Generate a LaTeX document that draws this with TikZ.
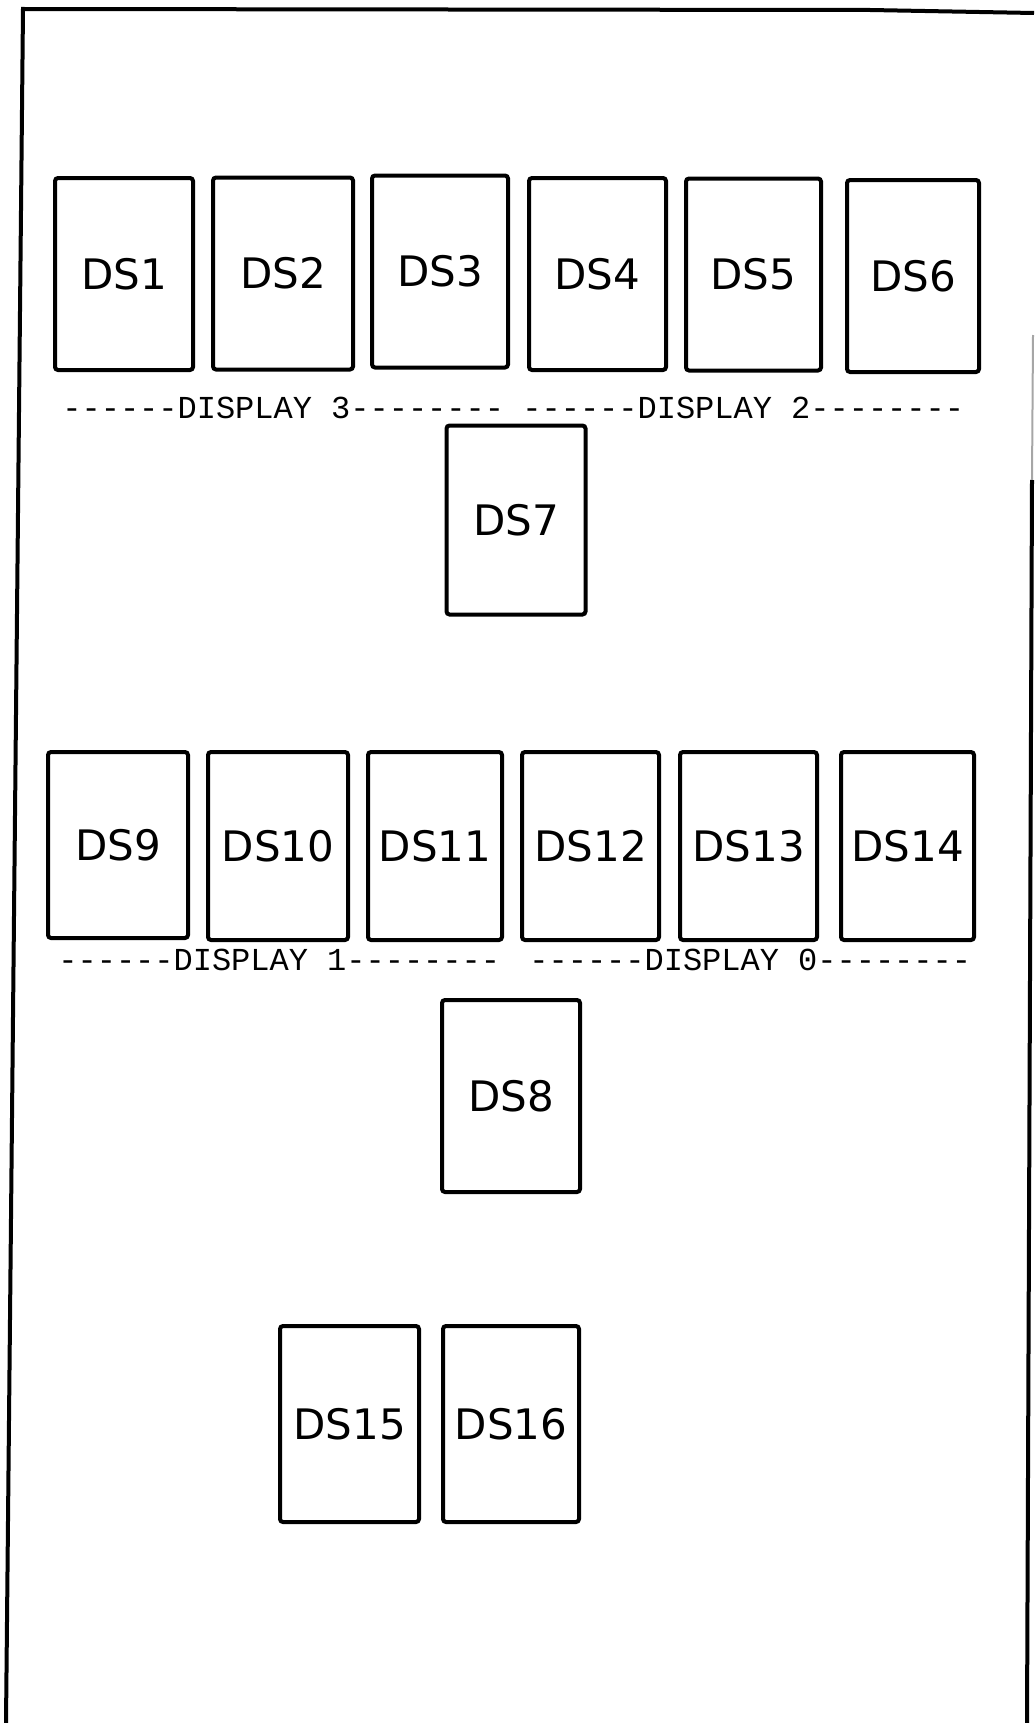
\documentclass[tikz,border=0pt]{standalone}
\usepackage{fontspec}
\newfontfamily\dsfont{DejaVu Sans}
\newfontfamily\typefont{Liberation Mono}
\tikzset{
  dsbox/.style={draw=black, line width=2pt, rounded corners=1.5pt, rectangle,
    inner sep=0pt, minimum width=68.5pt, minimum height=96pt,
    font=\dsfont\fontsize{21}{25}\selectfont},
  displaylabel/.style={anchor=west, inner sep=0pt,
    font=\typefont\fontsize{16}{18}\selectfont},
  frameline/.style={line width=2pt, black}
}
\begin{document}
\begin{tikzpicture}[x=0.5pt, y=-0.5pt]
\useasboundingbox (0,0) rectangle (1034,1723);
% frame
\draw[frameline] (1034,13) -- (870,10) -- (23,9) -- (6,1723);
\draw[line width=1pt, black!35] (1033,335) -- (1032,480);
\draw[frameline] (1032,480) -- (1027,1723);
% row 1
\node[dsbox, minimum width=69pt] (ds1) at (124,274) {DS1};
\node[dsbox, minimum width=70pt] (ds2) at (283,273.5) {DS2};
\node[dsbox, minimum width=68pt] (ds3) at (440,271.5) {DS3};
\node[dsbox, minimum width=68.5pt] (ds4) at (597.5,274) {DS4};
\node[dsbox, minimum width=67.5pt] (ds5) at (753.5,274.5) {DS5};
\node[dsbox, minimum width=66pt] (ds6) at (913,276) {DS6};
\node[displaylabel] (disp3) at (62,408) {------DISPLAY 3--------};
\node[displaylabel] (disp2) at (522,408) {------DISPLAY 2--------};
\node[dsbox, minimum width=69.5pt, minimum height=94.5pt] (ds7) at (516,520) {DS7};
% row 2
\node[dsbox, minimum width=70pt, minimum height=93pt] (ds9) at (118,845) {DS9};
\node[dsbox, minimum width=70pt, minimum height=94pt] (ds10) at (278,846) {DS10};
\node[dsbox, minimum width=67pt, minimum height=94pt] (ds11) at (435,846) {DS11};
\node[dsbox, minimum width=68.5pt, minimum height=94pt] (ds12) at (590.5,846) {DS12};
\node[dsbox, minimum width=68.5pt, minimum height=94pt] (ds13) at (748.5,846) {DS13};
\node[dsbox, minimum width=66.5pt, minimum height=94pt] (ds14) at (907.5,846) {DS14};
\node[displaylabel] (disp1) at (58,960) {------DISPLAY 1--------};
\node[displaylabel] (disp0) at (529,960) {------DISPLAY 0--------};
\node[dsbox, minimum width=69pt] (ds8) at (511,1096) {DS8};
% bottom pair
\node[dsbox, minimum width=69.5pt, minimum height=98pt] (ds15) at (349.5,1424) {DS15};
\node[dsbox, minimum width=68pt, minimum height=98pt] (ds16) at (511,1424) {DS16};
\end{tikzpicture}
\end{document}
